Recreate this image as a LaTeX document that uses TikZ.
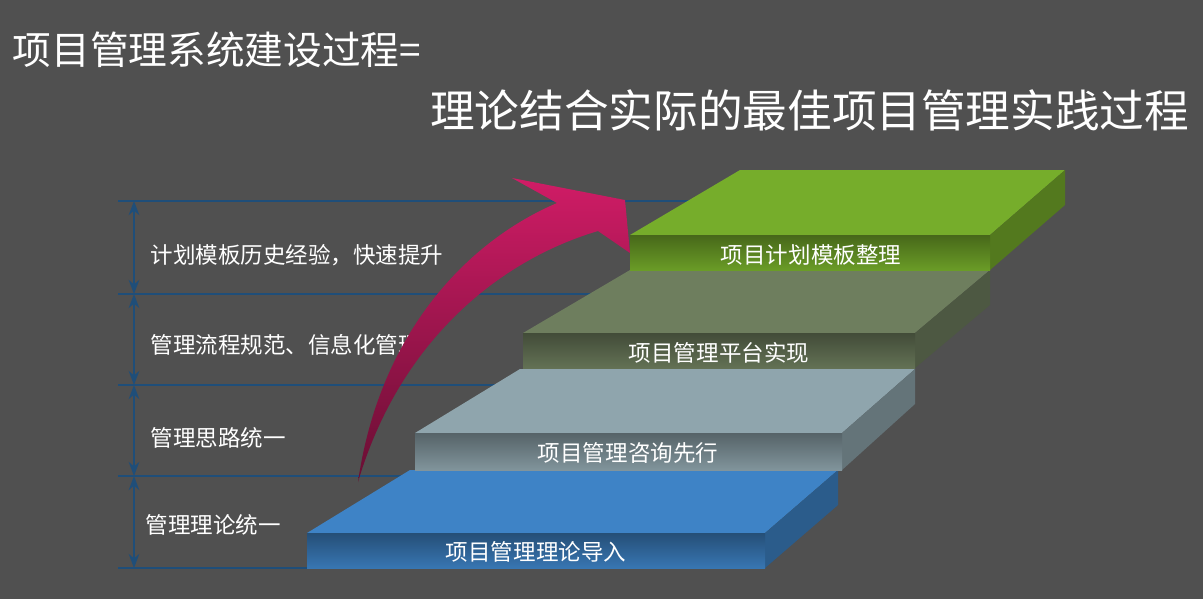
\documentclass[tikz,border=0pt]{standalone}
\usepackage{fontspec}
\newfontfamily\cjk{Noto Sans CJK SC}
\usetikzlibrary{arrows.meta}
\begin{document}
\begin{tikzpicture}[x=0.01cm,y=-0.01cm,
  hline/.style={draw={rgb,255:red,31;green,78;blue,121},line width=0.5pt},
  vaxis/.style={draw={rgb,255:red,31;green,78;blue,121},line width=0.6pt,{Stealth[length=4pt]}-{Stealth[length=4pt]}},
  lbl/.style={anchor=west,text=white,font=\cjk\fontsize{6.4}{7}\selectfont,inner sep=0},
  steplbl/.style={text=white,font=\cjk\fontsize{6.4}{7}\selectfont,inner sep=0}]
\fill[fill={rgb,255:red,80;green,80;blue,80}] (0,0) rectangle (1203,599);
\useasboundingbox (0,0) rectangle (1203,599);
\node[anchor=west,text=white,font=\cjk\fontsize{11}{12}\selectfont,inner sep=0] (t1) at (12,50) {项目管理系统建设过程=};
\node[anchor=east,text=white,font=\cjk\fontsize{12.7}{14}\selectfont,inner sep=0] (t2) at (1190,110) {理论结合实际的最佳项目管理实践过程};
% lines
\foreach \y/\n in {201/a,294/b,385/c,476/d,568/e}{
  \coordinate (l\n) at (118,\y); \coordinate (r\n) at (700,\y); \coordinate (v\n) at (134,\y);
  \draw[hline] (l\n) -- (r\n);}
\draw[vaxis] (va) -- (vb);
\draw[vaxis] (vb) -- (vc);
\draw[vaxis] (vc) -- (vd);
\draw[vaxis] (vd) -- (ve);
\node[lbl] (s4) at (150,255) {计划模板历史经验，快速提升};
\node[lbl] (s3) at (150,345) {管理流程规范、信息化管理};
\node[lbl] (s2) at (150,438) {管理思路统一};
\node[lbl] (s1) at (145,525) {管理理论统一};
\newcommand\stepblk[8]{%
  \fill[#8] (#1,#3) -- (#6,#5) -- (#7,#5) -- (#2,#3) -- cycle;
  \fill[#8!70!black] (#2,#3) -- (#7,#5) -- (#7,#5+35) -- (#2,#4) -- cycle;
  \shade[top color=#8!60!black,bottom color=#8!90!black] (#1,#3) rectangle (#2,#4);}
\definecolor{cb}{RGB}{62,131,198}
\definecolor{cg}{RGB}{143,165,173}
\definecolor{co}{RGB}{110,126,94}
\definecolor{cgr}{RGB}{118,173,43}
\stepblk{307}{765}{533}{568}{470}{410}{838}{cb}
\stepblk{415}{842}{433}{470}{369}{520}{915}{cg}
\stepblk{523}{915}{333}{368}{270}{630}{990}{co}
\stepblk{630}{990}{235}{270}{170}{740}{1065}{cgr}
\node[steplbl] (p1) at (536,552) {项目管理理论导入};
\node[steplbl] (p2) at (628,453) {项目管理咨询先行};
\node[steplbl] (p3) at (719,353) {项目管理平台实现};
\node[steplbl] (p4) at (811,255) {项目计划模板整理};
\definecolor{mag}{RGB}{208,28,102}
\shade[top color=mag,bottom color=mag!50!black,shading angle=0]
  (358,482) .. controls (380,330) and (470,240) .. (557,203) -- (512,178) -- (625,200) -- (630,253) -- (598,231)
  .. controls (500,260) and (400,340) .. (358,482) -- cycle;
\end{tikzpicture}
\end{document}
